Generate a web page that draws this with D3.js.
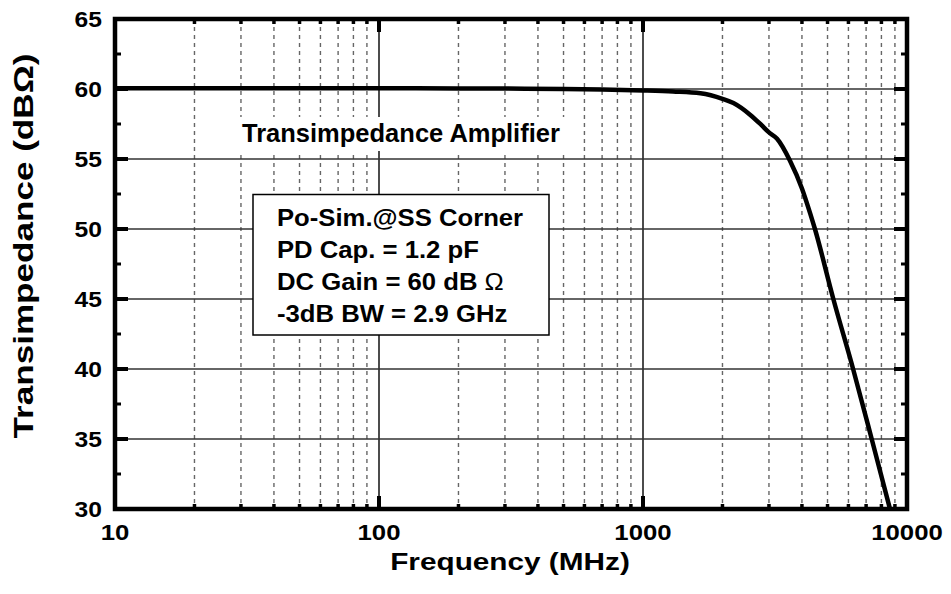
<!DOCTYPE html>
<html>
<head>
<meta charset="utf-8">
<script src="https://cdn.jsdelivr.net/npm/d3@7"></script>
<style>
  body { margin: 0; background: #fff; }
  text { font-family: "Liberation Sans", Arial, sans-serif; font-weight: bold; fill: #000; }
</style>
</head>
<body>
<script>
// values
var freqMHz = [10, 50, 100, 200, 300, 500, 700, 1000, 1300, 1650, 2000, 2200, 2550, 2800, 3000, 3220, 3600, 4000, 4300, 4480, 5260, 6250, 7350, 8620];
var gainDb  = [60.05, 60.05, 60.05, 60.04, 60.03, 60.0, 59.97, 59.9, 59.82, 59.69, 59.3, 59.0, 58.15, 57.45, 56.9, 56.45, 54.9, 52.9, 51.1, 50.0, 45.0, 40.0, 35.0, 30.0];

var xTickLabels = [10, 100, 1000, 10000];
var yTickLabels = [30, 35, 40, 45, 50, 55, 60, 65];
var yMinorTicks = [32.5, 37.5, 42.5, 47.5, 52.5, 57.5, 62.5];

var noteLines = ["Po-Sim.@SS Corner", "PD Cap. = 1.2 pF", "DC Gain = 60 dB ", "-3dB BW = 2.9 GHz"];

drawChart();

function drawChart(){
  var width = 951, height = 594;
  // plot frame (window.top is reserved, so p-prefixed names)
  var pL = 115, pR = 907, pT = 19, pB = 509;

  var svg = d3.select("body").append("svg")
      .attr("width", width)
      .attr("height", height);

  var x = d3.scaleLog().domain([10, 10000]).range([pL, pR]);
  var y = d3.scaleLinear().domain([30, 65]).range([pB, pT]);

  // minor decades 2..9
  var xMinor = x.ticks().filter(function(d){ return xTickLabels.indexOf(d) < 0; });

  // text helper, stretched sideways a bit like the original font
  function label(g, str, tx, ty, size, sx, anchor, rot){
    return g.append("text")
      .attr("transform", "translate(" + tx + "," + ty + ")" + (rot ? " rotate(" + rot + ")" : "") + " scale(" + sx + ",1)")
      .attr("text-anchor", anchor)
      .style("font-size", size + "px")
      .text(str);
  }

  // grid
  var grid = svg.append("g");
  grid.selectAll(".vminor").data(xMinor).enter().append("line")
    .attr("x1", function(d){ return x(d); }).attr("x2", function(d){ return x(d); })
    .attr("y1", pT).attr("y2", pB)
    .attr("stroke", "#666").attr("stroke-width", 1.4).attr("stroke-dasharray", "4,4");
  grid.selectAll(".vmajor").data([100, 1000]).enter().append("line")
    .attr("x1", function(d){ return x(d); }).attr("x2", function(d){ return x(d); })
    .attr("y1", pT).attr("y2", pB)
    .attr("stroke", "#111").attr("stroke-width", 1.5);
  grid.selectAll(".hmajor").data(yTickLabels.slice(1, -1)).enter().append("line")
    .attr("x1", pL).attr("x2", pR)
    .attr("y1", function(d){ return y(d); }).attr("y2", function(d){ return y(d); })
    .attr("stroke", "#333").attr("stroke-width", 1.6);

  // white patch behind the title text inside the plot
  svg.append("rect").attr("x", 236).attr("y", 117).attr("width", 334).attr("height", 34).attr("fill", "#fff");
  label(svg, "Transimpedance Amplifier", 242, 142, 25, 1.02, "start");

  // note box
  var box = svg.append("g");
  box.append("rect").attr("x", 253).attr("y", 194.5).attr("width", 296).attr("height", 140.5)
    .attr("fill", "#fff").attr("stroke", "#000").attr("stroke-width", 1.5);
  noteLines.forEach(function(s, i){
    var t = label(box, s, 277, 226 + i * 32, 24, 1.07, "start");
    if (i == 2) t.append("tspan").style("font-weight", "normal").text("\u03A9");
  });

  // curve
  svg.append("clipPath").attr("id", "clip").append("rect")
    .attr("x", pL).attr("y", pT).attr("width", pR - pL).attr("height", pB - pT);
  var line = d3.line()
    .x(function(d){ return x(d[0]); })
    .y(function(d){ return y(d[1]); })
    .curve(d3.curveMonotoneX);
  svg.append("path")
    .datum(d3.zip(freqMHz, gainDb))
    .attr("clip-path", "url(#clip)")
    .attr("fill", "none").attr("stroke", "#000").attr("stroke-width", 4.5)
    .attr("stroke-linejoin", "round")
    .attr("d", line);

  // ticks, inward on all four sides
  var ticks = svg.append("g").attr("stroke", "#000");
  yTickLabels.forEach(function(d){
    ticks.append("line").attr("x1", pL).attr("x2", pL + 13).attr("y1", y(d)).attr("y2", y(d)).attr("stroke-width", 4);
    ticks.append("line").attr("x1", pR).attr("x2", pR - 13).attr("y1", y(d)).attr("y2", y(d)).attr("stroke-width", 4);
  });
  yMinorTicks.forEach(function(d){
    ticks.append("line").attr("x1", pL).attr("x2", pL + 6).attr("y1", y(d)).attr("y2", y(d)).attr("stroke-width", 3);
    ticks.append("line").attr("x1", pR).attr("x2", pR - 6).attr("y1", y(d)).attr("y2", y(d)).attr("stroke-width", 3);
  });
  xTickLabels.forEach(function(d){
    ticks.append("line").attr("x1", x(d)).attr("x2", x(d)).attr("y1", pB).attr("y2", pB - 13).attr("stroke-width", 4);
    ticks.append("line").attr("x1", x(d)).attr("x2", x(d)).attr("y1", pT).attr("y2", pT + 13).attr("stroke-width", 4);
  });
  xMinor.forEach(function(d){
    ticks.append("line").attr("x1", x(d)).attr("x2", x(d)).attr("y1", pB).attr("y2", pB - 5).attr("stroke-width", 3.5);
    ticks.append("line").attr("x1", x(d)).attr("x2", x(d)).attr("y1", pT).attr("y2", pT + 5).attr("stroke-width", 3.5);
  });

  // frame
  svg.append("rect").attr("x", pL).attr("y", pT).attr("width", pR - pL).attr("height", pB - pT)
    .attr("fill", "none").attr("stroke", "#000").attr("stroke-width", 4.5);

  // tick labels
  xTickLabels.forEach(function(d){
    label(svg, d, x(d), 540, 23, 1.12, "middle");
  });
  yTickLabels.forEach(function(d){
    label(svg, d, 102, y(d) + 8, 22, 1.12, "end");
  });

  // axis titles
  label(svg, "Frequency (MHz)", 510, 570, 24, 1.24, "middle");
  label(svg, "Transimpedance (dB\u03A9)", 33, 246, 27, 1.3, "middle", -90);
}
</script>
</body>
</html>
